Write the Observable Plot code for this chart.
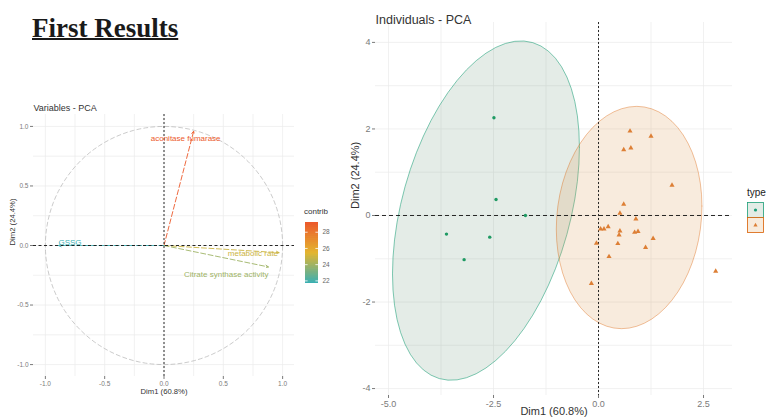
<!DOCTYPE html>
<html><head><meta charset="utf-8">
<script src="https://cdn.jsdelivr.net/npm/d3@7"></script>
<script src="https://cdn.jsdelivr.net/npm/@observablehq/plot@0.6"></script>
<style>
body{margin:0;background:#fff;width:768px;height:419px;overflow:hidden;position:relative;font-family:"Liberation Sans",Arial,sans-serif;}
.abs{position:absolute;}
#title{left:32px;top:15px;font-family:"Liberation Serif","Times New Roman",serif;font-weight:bold;font-size:27px;text-decoration:underline;text-decoration-thickness:2px;color:#1a1a1a;line-height:27px;white-space:nowrap;}
#ctitle{left:304px;top:207px;font-size:8px;color:#333;}
svg{background:transparent !important;}
</style></head><body>
<div id="title" class="abs">First Results</div>
<div id="left" class="abs" style="left:0;top:95px"></div>
<div id="right" class="abs" style="left:330px;top:0"></div>
<div id="bar" class="abs" style="left:295px;top:205px"></div>
<div id="ctitle" class="abs">contrib</div>
<svg class="abs" style="left:745px;top:185px" width="23" height="50">
  <text x="2" y="11" font-size="10" fill="#222" font-family="Liberation Sans, Arial, sans-serif">type</text>
  <rect x="2.5" y="17.5" width="16" height="15" fill="#e3ece6" stroke="#1B9E77" stroke-width="0.8"/>
  <circle cx="10.5" cy="25" r="1.6" fill="#1B9E77"/>
  <rect x="2.5" y="32.5" width="16" height="15" fill="#f8ebdc" stroke="#D95F02" stroke-width="0.8"/>
  <path d="M10.5,37.8 L12.6,41.6 L8.4,41.6 Z" fill="#dd7f35"/>
</svg>
<script>
// ---------- data ----------
const varNames   = ["aconitase fumarase", "metabolic rate", "Citrate synthase activity", "GSSG"];
const varDim1    = [0.25, 0.97, 0.88, -0.89];
const varDim2    = [0.96, -0.06, -0.18, 0.00];
const varContrib = [29.2, 25.0, 24.0, 21.8];
const contribTicks = [22, 24, 26, 28];

const typeLabels = ["1", "2"];
const type1Dim1 = [-2.49, -2.44, -1.74, -3.62, -2.59, -3.20];
const type1Dim2 = [2.26, 0.37, 0.00, -0.43, -0.50, -1.02];
const type2Dim1 = [0.75, 1.25, 0.60, 0.77, 1.75, 0.60, 0.51, 0.89, 0.05, 0.13, 0.23, 0.51, 0.49, 0.86, 0.94, 1.30, -0.05, 0.46, 1.12, 0.25, -0.17, 2.79];
const type2Dim2 = [1.95, 1.83, 1.52, 1.56, 0.70, 0.26, 0.05, -0.08, -0.31, -0.31, -0.26, -0.36, -0.45, -0.39, -0.37, -0.53, -0.64, -0.65, -0.74, -0.95, -1.57, -1.29];

const leftXTicks = [-1, -0.5, 0, 0.5, 1];
const leftYTicks = [-1, -0.5, 0, 0.5, 1];
const rightXTicks = [-5, -2.5, 0, 2.5];
const rightYTicks = [-4, -2, 0, 2, 4];

// ---------- helpers ----------
const vars = varNames.map((name, i) => ({name, x: varDim1[i], y: varDim2[i], contrib: varContrib[i]}));
const circle = d3.range(0, 121).map(i => { const t = i / 120 * 2 * Math.PI; return {x: Math.cos(t), y: Math.sin(t)}; });
const colorOpts = {type: "linear", domain: [21.8, 25.5, 29.2], range: ["#3aafb3", "#e3b52f", "#ec5a2b"]};
const fmt1 = d => d.toFixed(1);
const font = "Liberation Sans, Arial, sans-serif";

// stat_ellipse (type = "norm", level = 0.95)
function normEllipse(xs, ys, level = 0.95, segments = 60) {
  const n = xs.length, mx = d3.mean(xs), my = d3.mean(ys);
  let sxx = 0, syy = 0, sxy = 0;
  for (let i = 0; i < n; i++) { const dx = xs[i] - mx, dy = ys[i] - my; sxx += dx*dx; syy += dy*dy; sxy += dx*dy; }
  sxx /= n - 1; syy /= n - 1; sxy /= n - 1;
  const m = n - 1;
  const q = (m / 2) * (Math.pow(1 - level, -2 / m) - 1);
  const radius = Math.sqrt(2 * q);
  const a = Math.sqrt(sxx), b = sxy / a, c = Math.sqrt(syy - b*b);
  return d3.range(segments + 1).map(k => {
    const t = k / segments * 2 * Math.PI, ct = Math.cos(t), st = Math.sin(t);
    return {x: mx + radius * ct * a, y: my + radius * (ct * b + st * c)};
  });
}
const pts1 = type1Dim1.map((x, i) => ({x, y: type1Dim2[i], type: typeLabels[0]}));
const pts2 = type2Dim1.map((x, i) => ({x, y: type2Dim2[i], type: typeLabels[1]}));
const ell1 = normEllipse(type1Dim1, type1Dim2);
const ell2 = normEllipse(type2Dim1, type2Dim2);

// ---------- left: variables ----------
const gridL = [-1, -0.75, -0.5, -0.25, 0, 0.25, 0.5, 0.75, 1];
const left = Plot.plot({
  width: 330, height: 310, marginTop: 19, marginRight: 36, marginBottom: 29, marginLeft: 33,
  style: {fontFamily: font, fontSize: "6.5px", color: "#7a7a7a", background: "transparent"},
  x: {domain: [-1.1, 1.1], ticks: leftXTicks, tickFormat: fmt1, tickSize: 3, tickPadding: 2, label: null},
  y: {domain: [-1.1, 1.1], ticks: leftYTicks, tickFormat: fmt1, tickSize: 3, tickPadding: 2, label: null},
  color: colorOpts,
  marks: [
    Plot.ruleX(gridL, {x: d => d, stroke: "#ebebeb", strokeWidth: 0.7}),
    Plot.ruleY(gridL, {y: d => d, stroke: "#ebebeb", strokeWidth: 0.7}),
    Plot.line(circle, {x: "x", y: "y", stroke: "#b5b5b5", strokeWidth: 0.7, strokeDasharray: "4,3"}),
    Plot.arrow(vars, {x1: d => 0, y1: d => 0, x2: "x", y2: "y", stroke: "contrib", strokeWidth: 0.9, headLength: 5, headAngle: 50, strokeDasharray: "5,2.5"}),
    Plot.ruleY([0], {y: d => d, stroke: "#111", strokeWidth: 0.9, strokeDasharray: "3,2.5"}),
    Plot.ruleX([0], {x: d => d, stroke: "#111", strokeWidth: 0.9, strokeDasharray: "2,2"}),
    Plot.text(vars, {filter: d => d.name === varNames[0], x: "x", y: "y", text: "name", fill: "contrib", fontSize: 8, dx: -8, dy: 7}),
    Plot.text(vars, {filter: d => d.name === varNames[1], x: "x", y: "y", text: "name", fill: "contrib", fontSize: 8, textAnchor: "end", dx: -1, dy: 1}),
    Plot.text(vars, {filter: d => d.name === varNames[2], x: "x", y: "y", text: "name", fill: "contrib", fontSize: 8, textAnchor: "end", dx: 0, dy: 8}),
    Plot.text(vars, {filter: d => d.name === varNames[3], x: "x", y: "y", text: "name", fill: "contrib", fontSize: 8, textAnchor: "start", dx: 0, dy: -3}),
    Plot.text(["Variables - PCA"], {text: d => d, frameAnchor: "top-left", textAnchor: "start", dy: -10, fontSize: 9, fill: "#333"}),
    Plot.text(["Dim1 (60.8%)"], {text: d => d, frameAnchor: "bottom", dy: 17, fontSize: 7.7, fill: "#333"}),
    Plot.text(["Dim2 (24.4%)"], {text: d => d, frameAnchor: "left", rotate: -90, dx: -21, fontSize: 7.7, fill: "#333"})
  ]
});
document.getElementById("left").appendChild(left);

// ---------- colour bar ----------
const barSteps = d3.range(21.8, 29.2001, 0.05);
const bar = Plot.plot({
  width: 45, height: 80, marginTop: 17, marginBottom: 3, marginLeft: 10, marginRight: 22,
  style: {fontFamily: font, background: "transparent"},
  x: {domain: [0, 1], axis: null},
  y: {domain: [21.8, 29.2], axis: null},
  color: colorOpts,
  marks: [
    Plot.ruleY(barSteps, {y: d => d, x1: d => 0, x2: d => 1, stroke: d => d, strokeWidth: 1}),
    Plot.ruleY(contribTicks, {y: d => d, x1: d => 0, x2: d => 0.2, stroke: "white", strokeWidth: 0.8}),
    Plot.ruleY(contribTicks, {y: d => d, x1: d => 0.8, x2: d => 1, stroke: "white", strokeWidth: 0.8}),
    Plot.text(contribTicks, {y: d => d, x: d => 1, text: d => String(d), textAnchor: "start", dx: 4, fontSize: 6.5, fill: "#666"})
  ]
});
document.getElementById("bar").appendChild(bar);

// ---------- right: individuals ----------
const gridRX = [-5, -3.75, -2.5, -1.25, 0, 1.25, 2.5];
const gridRY = [-4, -3, -2, -1, 0, 1, 2, 3, 4];
const right = Plot.plot({
  width: 438, height: 419, marginTop: 22, marginRight: 36, marginBottom: 24, marginLeft: 45,
  style: {fontFamily: font, fontSize: "9px", color: "#7a7a7a", background: "transparent"},
  x: {domain: [-5.31, 3.19], ticks: rightXTicks, tickFormat: fmt1, tickSize: 3, tickPadding: 2, label: null},
  y: {domain: [-4.16, 4.46], ticks: rightYTicks, tickFormat: d => String(d), tickSize: 3, tickPadding: 2, label: null},
  marks: [
    Plot.ruleX(gridRX, {x: d => d, stroke: "#ebebeb", strokeWidth: 0.7}),
    Plot.ruleY(gridRY, {y: d => d, stroke: "#ebebeb", strokeWidth: 0.7}),
    Plot.line(ell1, {x: "x", y: "y", fill: "#7a9e88", fillOpacity: 0.2, stroke: "#1B9E77", strokeOpacity: 0.8, strokeWidth: 0.7}),
    Plot.line(ell2, {x: "x", y: "y", fill: "#dc9a56", fillOpacity: 0.2, stroke: "#D95F02", strokeOpacity: 0.55, strokeWidth: 0.7}),
    Plot.ruleY([0], {y: d => d, stroke: "#111", strokeWidth: 0.9, strokeDasharray: "4,3"}),
    Plot.ruleX([0], {x: d => d, stroke: "#111", strokeWidth: 0.9, strokeDasharray: "2,2"}),
    Plot.dot(pts1, {x: "x", y: "y", r: 1.7, fill: "#1f9a63", symbol: "circle"}),
    Plot.dot(pts2, {x: "x", y: "y", r: 1.9, fill: "#dd7f35", symbol: "triangle"}),
    Plot.text(["Individuals - PCA"], {text: d => d, frameAnchor: "top-left", textAnchor: "start", dy: -7, fontSize: 12.5, fill: "#333"}),
    Plot.text(["Dim1 (60.8%)"], {text: d => d, frameAnchor: "bottom", dy: 19, fontSize: 11, fill: "#333"}),
    Plot.text(["Dim2 (24.4%)"], {text: d => d, frameAnchor: "left", rotate: -90, dx: -20, fontSize: 11, fill: "#333"})
  ]
});
document.getElementById("right").appendChild(right);
</script>
</body></html>
